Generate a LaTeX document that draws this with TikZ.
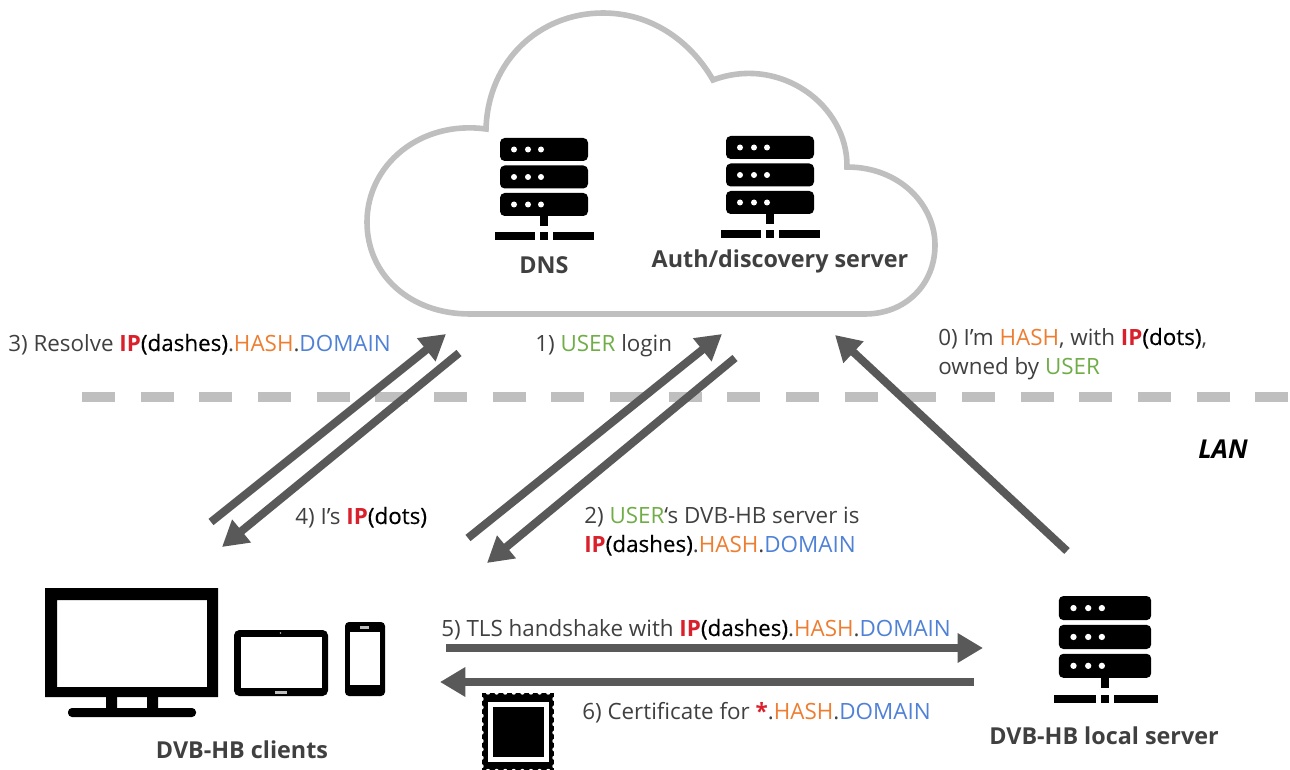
\documentclass[tikz,border=0pt]{standalone}
\usepackage{fontspec}
\setmainfont{Open Sans}
\newfontfamily\semib[FakeBold=0.35]{Open Sans}
\usetikzlibrary{arrows.meta}
\definecolor{cred}{HTML}{D9202B}
\definecolor{corg}{HTML}{ED7D31}
\definecolor{cblu}{HTML}{4F81D6}
\definecolor{cgrn}{HTML}{70AD47}
\definecolor{ctxt}{HTML}{404040}
\definecolor{carr}{HTML}{595959}
\definecolor{cgry}{HTML}{BFBFBF}
\newcommand{\IPx}{\textcolor{cred}{\textbf{IP}}}
\newcommand{\HS}{\textcolor{corg}{HASH}}
\newcommand{\DM}{\textcolor{cblu}{DOMAIN}}
\newcommand{\US}{\textcolor{cgrn}{USER}}
\newcommand{\BK}[1]{\textcolor{black}{\semib #1}}
\tikzset{
  lbl/.style={anchor=base west,inner sep=0pt,text=ctxt,font=\fontsize{16.8}{20}\selectfont},
  captxt/.style={anchor=base,inner sep=0pt,text=ctxt,font=\fontsize{17.5}{20}\selectfont\bfseries},
  flow/.style={draw=carr,line width=6pt,-{Triangle[length=19pt,width=21pt]}},
  pics/srv/.style={code={
    \foreach \t in {0,27.5,55}{
      \fill[black,rounded corners=3.5pt] (-44,\t) rectangle (44,\t+23);
      \foreach \d in {-30,-16,-3}{\fill[white] (\d,\t+11.5) circle (3);}
    }
    \fill[black] (-4,78) rectangle (4,88);
    \fill[black] (-49,94) rectangle (-9,102);
    \fill[black] (-4,94) rectangle (4,102);
    \fill[black] (9,94) rectangle (50,102);
  }}
}
\begin{document}
\begin{tikzpicture}[x=0.75pt,y=-0.75pt]
\useasboundingbox (0,0) rectangle (1290,770);
% LAN boundary
\coordinate (wanL) at (82,397);
\coordinate (wanR) at (1290,397);
\draw[cgry,line width=7pt,dash pattern=on 24.7pt off 19.3pt] (wanL) -- (wanR);
% cloud
\draw[cgry,line width=4.2pt,line join=miter,fill=white]
  (486,129) .. controls (488,60) and (540,13) .. (603,13)
  .. controls (655,13) and (693,45) .. (713,80)
  .. controls (780,55) and (848,105) .. (847,167)
  .. controls (900,167) and (935,205) .. (935,245)
  .. controls (935,285) and (905,314) .. (865,314)
  -- (470,314)
  .. controls (410,314) and (367,275) .. (367,222)
  .. controls (367,165) and (420,120) .. (486,129) -- cycle;
% servers
\pic at (544,138) {srv};
\pic at (770,136) {srv};
\pic[scale=1.05] at (1105,596) {srv};
\node[captxt] (dns) at (544,274) {DNS};
\node[captxt] (auth) at (780,268) {Auth/discovery server};
\node[captxt] (local) at (1104,744) {DVB-HB local server};
\node[captxt] (clients) at (242,758) {DVB-HB clients};
% TV
\fill[black,even odd rule] (45,588) rectangle (218,697) (57,600) rectangle (207,687);
\fill[black] (106,697) rectangle (117,710) (147,697) rectangle (158,710);
\fill[black,rounded corners=3pt] (68,708) rectangle (196,717);
% tablet
\fill[black,rounded corners=4pt] (234,630) rectangle (328,696);
\fill[white] (241,637) rectangle (322,688);
\fill[cgry] (275,691) rectangle (287,694);
\fill[cgry] (280.5,633) circle (0.8);
% phone
\fill[black,rounded corners=3pt] (345,622) rectangle (385,696);
\fill[white] (350,632) rectangle (380,685);
\fill[cgry] (360,626) rectangle (369,629);
% certificate
\begin{scope}
\clip (470,680) rectangle (570,770);
\fill[black] (482,693) rectangle (554,773);
\foreach \i in {0,...,7}{
  \fill[white] (488+\i*8.6,692.5) circle (2.2);
  \fill[white] (488+\i*8.6,771) circle (2.2);
}
\foreach \i in {0,...,8}{
  \fill[white] (481.5,699+\i*8.4) circle (2.2);
  \fill[white] (554.5,699+\i*8.4) circle (2.2);
}
\fill[white] (488,702) rectangle (549,762);
\fill[black] (493,707) rectangle (544,757);
\end{scope}
% flow end points
\coordinate (a3s) at (211,522); \coordinate (a3e) at (446,334);
\coordinate (a4s) at (459,353); \coordinate (a4e) at (222,547);
\coordinate (a1s) at (468,538); \coordinate (a1e) at (722,334);
\coordinate (a2s) at (735,358); \coordinate (a2e) at (487,563);
\coordinate (a0s) at (1067,551); \coordinate (a0e) at (835,335);
\coordinate (a5s) at (446,648); \coordinate (a5e) at (983,648);
\coordinate (a6s) at (974,682); \coordinate (a6e) at (440,682);
\draw[flow] (a3s) -- (a3e);
\draw[flow] (a4s) -- (a4e);
\draw[flow] (a1s) -- (a1e);
\draw[flow] (a2s) -- (a2e);
\draw[flow] (a0s) -- (a0e);
\draw[flow] (a5s) -- (a5e);
\draw[flow] (a6s) -- (a6e);
% labels
\node[lbl] (t3) at (8,351) {3) Resolve \IPx\BK{(dashes)}.\HS.\DM};
\node[lbl] (t1) at (535,351) {1) \US{} login};
\node[lbl] (t0a) at (938,345) {0) I’m \HS, with \IPx\BK{(dots)},};
\node[lbl] (t0b) at (938,374) {owned by \US};
\node[lbl,text=black,font=\fontsize{19.5}{22}\selectfont\bfseries\itshape] (lan) at (1198,458) {LAN};
\node[lbl] (t4) at (295,524) {4) I’s \IPx\BK{(dots)}};
\node[lbl] (t2a) at (584,523) {2) \US‘s DVB-HB server is};
\node[lbl] (t2b) at (584,552) {\IPx\BK{(dashes)}.\HS.\DM};
\node[lbl] (t5) at (441,636) {5) TLS handshake with \IPx\BK{(dashes)}.\HS.\DM};
\node[lbl] (t6) at (582,719) {6) Certificate for \textcolor{cred}{\textbf{*}}.\HS.\DM};
\end{tikzpicture}
\end{document}
